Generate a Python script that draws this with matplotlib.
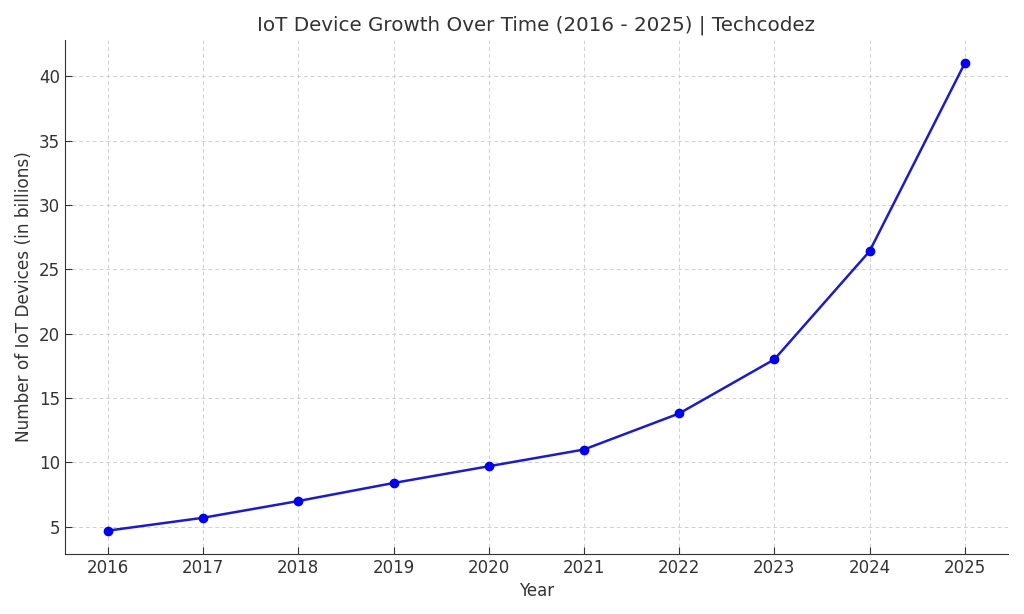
import matplotlib
matplotlib.use("Agg")
import matplotlib.pyplot as plt

years = [2016, 2017, 2018, 2019, 2020, 2021, 2022, 2023, 2024, 2025]
devices = [4.7, 5.7, 7.0, 8.4, 9.7, 11.0, 13.8, 18.0, 26.4, 41.0]

text_color = "#333333"
plt.rcParams["font.family"] = "DejaVu Sans"
plt.rcParams["text.color"] = text_color
plt.rcParams["axes.labelcolor"] = text_color
plt.rcParams["xtick.color"] = text_color
plt.rcParams["ytick.color"] = text_color

fig = plt.figure(figsize=(10.24, 6.14), dpi=100)
ax = fig.add_axes([0.0635, 0.0977, 0.9205, 0.8373])

ax.plot(years, devices, color="#1c1cc8", linewidth=1.8,
        marker="o", markersize=6, markerfacecolor="#0000ee", markeredgecolor="#0000ee")

ax.set_xticks(years)
ax.set_title("IoT Device Growth Over Time (2016 - 2025) | Techcodez", fontsize=14.3, color=text_color, pad=7)
ax.set_xlabel("Year", fontsize=12)
ax.set_ylabel("Number of IoT Devices (in billions)", fontsize=12.2)
ax.tick_params(axis="both", direction="in", labelsize=12, length=5)
ax.grid(True, linestyle=(0, (4, 3)), color="#d0d0d0", linewidth=0.7)
ax.set_axisbelow(True)

for s in ["top", "right"]:
    ax.spines[s].set_visible(False)
for s in ["left", "bottom"]:
    ax.spines[s].set_color(text_color)

fig.savefig("out.png", dpi=100)
